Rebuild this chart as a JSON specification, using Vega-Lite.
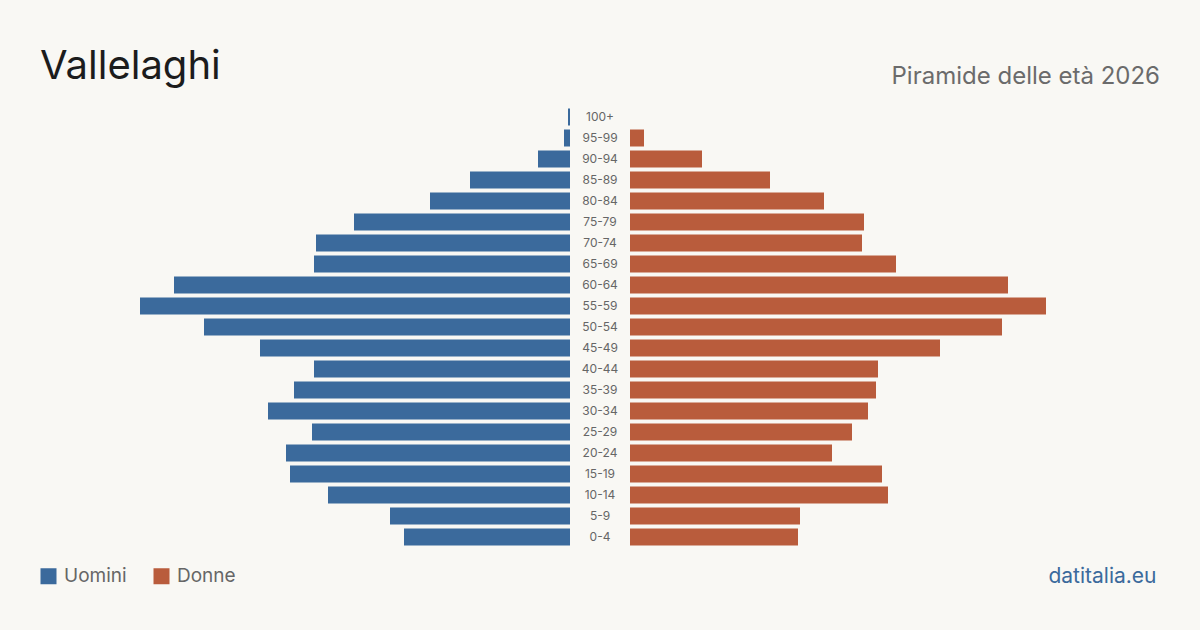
{
  "$schema": "https://vega.github.io/schema/vega-lite/v6.json",
  "autosize": {"type": "pad"},
  "padding": {"left": 39, "right": 40, "top": 46.5, "bottom": 44},
  "background": "#f9f8f4",
  "config": {
    "font": "Inter",
    "view": {"stroke": null},
    "concat": {"spacing": 0},
    "title": {"font": "Inter", "fontWeight": "normal"}
  },
  "bounds": "flush",
  "data": {
    "values": [
      {"eta": "100+", "sesso": "Uomini", "n": 1},
      {"eta": "95-99", "sesso": "Uomini", "n": 3},
      {"eta": "90-94", "sesso": "Uomini", "n": 16},
      {"eta": "85-89", "sesso": "Uomini", "n": 50},
      {"eta": "80-84", "sesso": "Uomini", "n": 70},
      {"eta": "75-79", "sesso": "Uomini", "n": 108},
      {"eta": "70-74", "sesso": "Uomini", "n": 127},
      {"eta": "65-69", "sesso": "Uomini", "n": 128},
      {"eta": "60-64", "sesso": "Uomini", "n": 198},
      {"eta": "55-59", "sesso": "Uomini", "n": 215},
      {"eta": "50-54", "sesso": "Uomini", "n": 183},
      {"eta": "45-49", "sesso": "Uomini", "n": 155},
      {"eta": "40-44", "sesso": "Uomini", "n": 128},
      {"eta": "35-39", "sesso": "Uomini", "n": 138},
      {"eta": "30-34", "sesso": "Uomini", "n": 151},
      {"eta": "25-29", "sesso": "Uomini", "n": 129},
      {"eta": "20-24", "sesso": "Uomini", "n": 142},
      {"eta": "15-19", "sesso": "Uomini", "n": 140},
      {"eta": "10-14", "sesso": "Uomini", "n": 121},
      {"eta": "5-9", "sesso": "Uomini", "n": 90},
      {"eta": "0-4", "sesso": "Uomini", "n": 83},
      {"eta": "100+", "sesso": "Donne", "n": 0},
      {"eta": "95-99", "sesso": "Donne", "n": 7},
      {"eta": "90-94", "sesso": "Donne", "n": 36},
      {"eta": "85-89", "sesso": "Donne", "n": 70},
      {"eta": "80-84", "sesso": "Donne", "n": 97},
      {"eta": "75-79", "sesso": "Donne", "n": 117},
      {"eta": "70-74", "sesso": "Donne", "n": 116},
      {"eta": "65-69", "sesso": "Donne", "n": 133},
      {"eta": "60-64", "sesso": "Donne", "n": 189},
      {"eta": "55-59", "sesso": "Donne", "n": 208},
      {"eta": "50-54", "sesso": "Donne", "n": 186},
      {"eta": "45-49", "sesso": "Donne", "n": 155},
      {"eta": "40-44", "sesso": "Donne", "n": 124},
      {"eta": "35-39", "sesso": "Donne", "n": 123},
      {"eta": "30-34", "sesso": "Donne", "n": 119},
      {"eta": "25-29", "sesso": "Donne", "n": 111},
      {"eta": "20-24", "sesso": "Donne", "n": 101},
      {"eta": "15-19", "sesso": "Donne", "n": 126},
      {"eta": "10-14", "sesso": "Donne", "n": 129},
      {"eta": "5-9", "sesso": "Donne", "n": 85},
      {"eta": "0-4", "sesso": "Donne", "n": 84}
    ]
  },
  "hconcat": [
    {
      "title": {"text": "Vallelaghi", "anchor": "start", "fontSize": 40, "color": "#1c1c1c", "baseline": "alphabetic", "offset": -12},
      "width": 530,
      "height": 441,
      "transform": [{"filter": "datum.sesso === 'Uomini'"}],
      "mark": {"type": "bar"},
      "encoding": {
        "y": {"field": "eta", "type": "nominal", "axis": null,
              "sort": ["100+","95-99","90-94","85-89","80-84","75-79","70-74","65-69","60-64","55-59","50-54","45-49","40-44","35-39","30-34","25-29","20-24","15-19","10-14","5-9","0-4"],
              "scale": {"paddingInner": 0.19, "paddingOuter": 0.095}},
        "x": {"field": "n", "type": "quantitative", "axis": null,
              "scale": {"domain": [0, 265], "reverse": true, "nice": false}},
        "color": {"field": "sesso", "type": "nominal",
                  "scale": {"domain": ["Uomini", "Donne"], "range": ["#3b6a9c", "#b95c3c"]},
                  "legend": {"title": null, "orient": "none", "legendX": -1, "legendY": 460, "direction": "horizontal",
                             "symbolType": "square", "symbolSize": 256, "symbolStrokeWidth": 0, "symbolOpacity": 1,
                             "labelFontSize": 19, "labelColor": "#666666", "labelFont": "Inter", "labelOffset": 6,
                             "columnPadding": 25}}
      }
    },
    {
      "width": 60,
      "height": 441,
      "transform": [{"filter": "datum.sesso === 'Uomini'"}],
      "mark": {"type": "text", "fontSize": 12, "color": "#666666", "font": "Inter"},
      "encoding": {
        "y": {"field": "eta", "type": "nominal", "axis": null,
              "sort": ["100+","95-99","90-94","85-89","80-84","75-79","70-74","65-69","60-64","55-59","50-54","45-49","40-44","35-39","30-34","25-29","20-24","15-19","10-14","5-9","0-4"],
              "scale": {"paddingInner": 0.19, "paddingOuter": 0.095}},
        "text": {"field": "eta"}
      }
    },
    {
      "title": {"text": "Piramide delle età 2026", "anchor": "end", "fontSize": 24, "color": "#6b6b6b", "baseline": "alphabetic", "offset": -1.6},
      "width": 530,
      "height": 441,
      "transform": [{"filter": "datum.sesso === 'Donne'"}],
      "mark": {"type": "bar"},
      "encoding": {
        "y": {"field": "eta", "type": "nominal", "axis": null,
              "sort": ["100+","95-99","90-94","85-89","80-84","75-79","70-74","65-69","60-64","55-59","50-54","45-49","40-44","35-39","30-34","25-29","20-24","15-19","10-14","5-9","0-4"],
              "scale": {"paddingInner": 0.19, "paddingOuter": 0.095}},
        "x": {"field": "n", "type": "quantitative",
              "scale": {"domain": [0, 265], "nice": false},
              "axis": {"domain": false, "ticks": false, "labels": false, "grid": false,
                       "title": "datitalia.eu", "titleFont": "Inter", "titleFontWeight": "normal", "titleFontSize": 21,
                       "titleColor": "#3b6a9c", "titleAnchor": "end", "titleAlign": "right", "titleBaseline": "alphabetic",
                       "titleX": 526, "titleY": 35}},
        "color": {"field": "sesso", "type": "nominal",
                  "scale": {"domain": ["Uomini", "Donne"], "range": ["#3b6a9c", "#b95c3c"]}}
      }
    }
  ]
}
